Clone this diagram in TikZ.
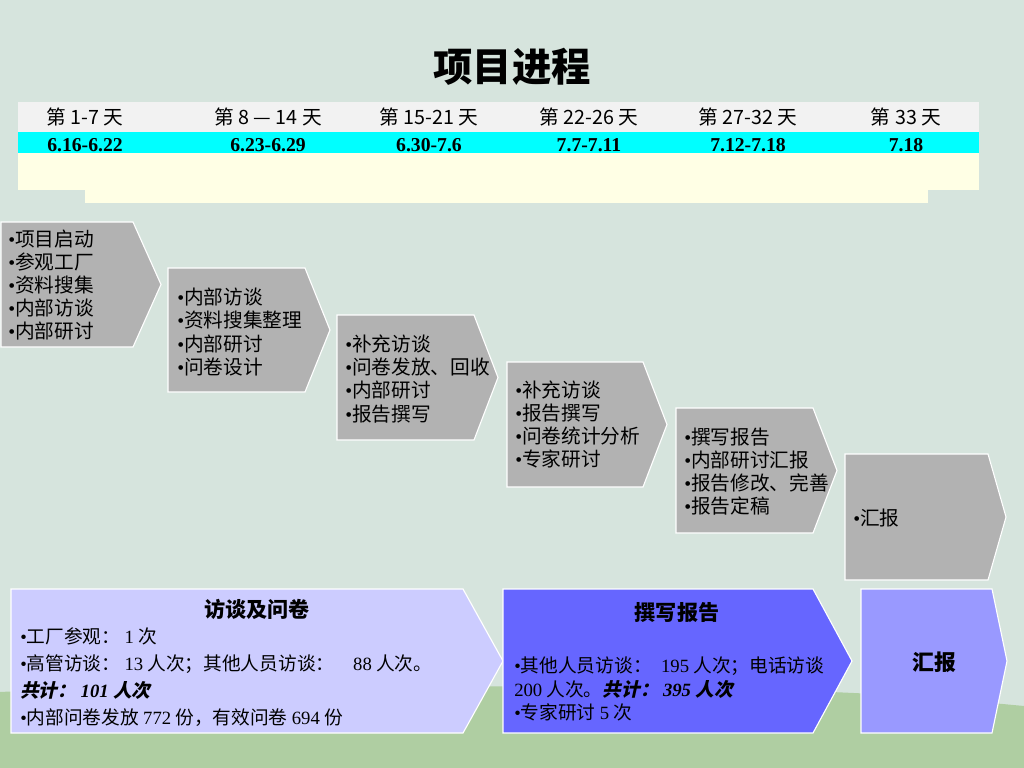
\documentclass[tikz,border=0pt]{standalone}
\usepackage{fontspec}
\setmainfont{Noto Sans CJK SC}
\newfontfamily\slant{Noto Sans CJK SC}[FakeSlant=0.22]
\newfontfamily\tnr{Liberation Serif}
\usetikzlibrary{positioning}
\definecolor{bg}{HTML}{D6E4DD}
\definecolor{hill}{HTML}{AFCEA2}
\definecolor{hdr}{HTML}{F2F2F2}
\definecolor{cyn}{HTML}{00FFFF}
\definecolor{ylw}{HTML}{FFFFE5}
\definecolor{stepgray}{HTML}{B2B2B2}
\definecolor{lav}{HTML}{CCCCFF}
\definecolor{blu}{HTML}{6666FF}
\definecolor{mid}{HTML}{9999FF}
\newcommand{\tmr}[1]{{\tnr #1}}
\newcommand{\bul}{{\tnr •}}
\newcommand{\total}[1]{{\slant\bfseries 共计： {\tnr\itshape #1} 人次}}
\newcommand{\chev}[6]{\path[#1] (#2,#3) -- (#4,#3) -- (#5,{(#3+#6)/2}) -- (#4,#6) -- (#2,#6) -- cycle;}
\tikzset{
  stepbox/.style={fill=stepgray,draw=white,line width=0.8pt},
  sumbox/.style={draw=white,line width=0.8pt},
  steptxt/.style={anchor=west,align=left,inner sep=0pt,font=\fontsize{14}{16.4}\selectfont},
  sumtxt/.style={anchor=west,align=left,inner sep=0pt,font=\fontsize{13.3}{19.2}\selectfont},
  sumtitle/.style={inner sep=0pt,font=\fontsize{15}{17}\selectfont\bfseries},
  hdrtxt/.style={inner sep=0pt,font=\fontsize{14}{16}\selectfont},
  datetxt/.style={anchor=base,inner sep=0pt,font=\tnr\bfseries\fontsize{14}{16}\selectfont},
}

\begin{document}
\begin{tikzpicture}[x=0.025cm,y=-0.025cm]
  \useasboundingbox (0,0) rectangle (1024,768);
  \fill[bg] (0,0) rectangle (1024,768);
  \fill[hill] (0,692) .. controls (250,680) and (600,688) .. (760,690) .. controls (880,692) and (960,700) .. (1024,706) -- (1024,768) -- (0,768) -- cycle;
  \node[font=\fontsize{28}{30}\selectfont\bfseries] (title) at (512,67) {项目进程};

  \fill[ylw] (18,102) rectangle (979,190);
  \fill[ylw] (85,190) rectangle (928,203);
  \fill[hdr] (18,102) rectangle (979,132);
  \fill[cyn] (18,132) rectangle (979,153);
  \foreach \x/\h/\d [count=\i] in {85/第 1-7 天/6.16-6.22, 268/第 8 — 14 天/6.23-6.29, 429/第 15-21 天/6.30-7.6, 589/第 22-26 天/7.7-7.11, 748/第 27-32 天/7.12-7.18, 906/第 33 天/7.18}{
    \node[hdrtxt] (h\i) at (\x,117) {\h};
    \node[datetxt] (d\i) at (\x,152) {\d};
  }

  \chev{stepbox}{1}{222}{133}{161}{347}
  \chev{stepbox}{168}{268}{305}{330}{392}
  \chev{stepbox}{337}{315}{474}{498}{440}
  \chev{stepbox}{507}{362}{643}{667}{487}
  \chev{stepbox}{676}{408}{813}{837}{533}
  \chev{stepbox}{845}{454}{988}{1006}{580}
  \node[steptxt] (s1) at (8,285) {\bul 项目启动\\\bul 参观工厂\\\bul 资料搜集\\\bul 内部访谈\\\bul 内部研讨};
  \node[steptxt] (s2) at (177,332) {\bul 内部访谈\\\bul 资料搜集整理\\\bul 内部研讨\\\bul 问卷设计};
  \node[steptxt] (s3) at (345,379) {\bul 补充访谈\\\bul 问卷发放、回收\\\bul 内部研讨\\\bul 报告撰写};
  \node[steptxt] (s4) at (515,424.5) {\bul 补充访谈\\\bul 报告撰写\\\bul 问卷统计分析\\\bul 专家研讨};
  \node[steptxt] (s5) at (684,471.5) {\bul 撰写报告\\\bul 内部研讨汇报\\\bul 报告修改、完善\\\bul 报告定稿};
  \node[steptxt] (s6) at (853,518) {\bul 汇报};

  \chev{sumbox,fill=lav}{11}{589}{463}{503}{733}
  \chev{sumbox,fill=blu}{503}{589}{813}{852}{733}
  \chev{sumbox,fill=mid}{861}{589}{992}{1007}{733}
  \node[sumtitle] (ta) at (257,609) {访谈及问卷};
  \node[sumtxt] (ba) at (20,677.5) {\bul 工厂参观： \tmr{1} 次\\\bul 高管访谈： \tmr{13} 人次；其他人员访谈：\quad\tmr{88} 人次。\\\total{101}\\\bul 内部问卷发放 \tmr{772} 份，有效问卷 \tmr{694} 份};
  \node[sumtitle] (tb) at (677,613) {撰写报告};
  \node[sumtxt,font=\fontsize{13.3}{17}\selectfont] (bb) at (514,689) {\bul 其他人员访谈：\enspace\tmr{195} 人次；电话访谈\\\tmr{200} 人次。\total{395}\\\bul 专家研讨 \tmr{5} 次};
  \node[sumtitle,font=\fontsize{15.5}{17}\selectfont\bfseries] (tc) at (934,662) {汇报};
\end{tikzpicture}
\end{document}
